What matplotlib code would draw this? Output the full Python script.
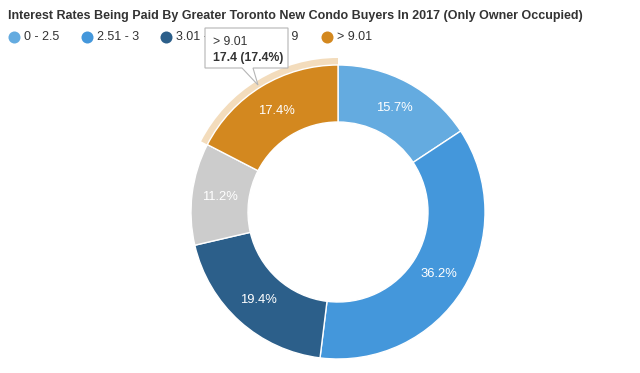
import matplotlib.pyplot as plt
from matplotlib.patches import Wedge, Polygon

categories = ["0 - 2.5", "2.51 - 3", "3.01 - 6", "6.01 - 9", "> 9.01"]
values = [15.7, 36.2, 19.4, 11.2, 17.4]
colors = ["#64abe0", "#4497db", "#2c5f8a", "#cccccc", "#d3881f"]
title = "Interest Rates Being Paid By Greater Toronto New Condo Buyers In 2017 (Only Owner Occupied)"

plt.rcParams['font.family'] = ['Liberation Sans', 'DejaVu Sans']

fig = plt.figure(figsize=(6.4, 3.73), dpi=100)
ax = fig.add_axes([0, 0, 1, 1])
H = 373

cx, cy, R = 338, H - 212, 147
width = 57

wedges, texts, autotexts = ax.pie(values, colors=colors, startangle=90, counterclock=False,
                                  center=(cx, cy), radius=R,
                                  wedgeprops=dict(width=width, edgecolor="white", linewidth=1),
                                  autopct="%.1f%%", pctdistance=(R - width / 2) / R,
                                  textprops=dict(color="white", fontsize=9.4))
for w in wedges:
    w.set_zorder(2)
for t in autotexts:
    t.set_zorder(3)

# hover halo on the highlighted slice (last one)
hw = wedges[-1]
ax.add_patch(Wedge((cx, cy), R + 7, min(hw.theta1, hw.theta2), max(hw.theta1, hw.theta2),
                   width=7, facecolor="#f3dcbc", edgecolor="none", zorder=1))

ax.set_xlim(0, 640)
ax.set_ylim(0, H)
ax.set_aspect('equal')
ax.axis('off')

ax.text(8, H - 16, title, fontsize=9, fontweight="bold", color="#333333",
        va="center", ha="left")

# legend
lx = [14, 87, 166, 246, 327]
for x, c, lab in zip(lx, colors, categories):
    ax.scatter([x], [H - 37], s=75, color=c, zorder=4, linewidths=0)
    ax.text(x + 10, H - 37, lab, fontsize=9, color="#333333", va="center", ha="left", zorder=4)

# tooltip
ax.add_patch(Polygon([[205, H - 28], [288, H - 28], [288, H - 68], [253, H - 68], [258, H - 85],
                      [242, H - 68], [205, H - 68]], closed=True,
                     facecolor="white", edgecolor="#b5b5b5", linewidth=0.8, zorder=5))
ax.text(213, H - 42, categories[4], fontsize=8.8, color="#333333", va="center", zorder=7)
ax.text(213, H - 58, "%.1f (%.1f%%)" % (values[4], values[4]), fontsize=8.8,
        fontweight="bold", color="#333333", va="center", zorder=7)

fig.savefig("out.png", dpi=100)
